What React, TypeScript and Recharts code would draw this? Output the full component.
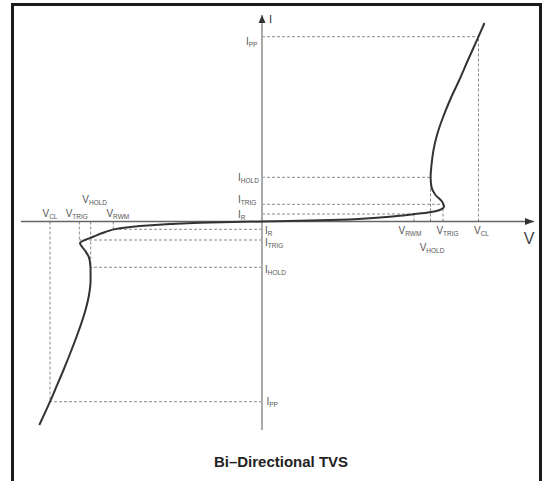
import {
  LineChart,
  Line,
  XAxis,
  YAxis,
  ReferenceLine,
  ReferenceDot,
} from 'recharts';

// Bi-directional TVS I-V sketch, arbitrary units
// V on the horizontal axis, I on the vertical axis

// characteristic levels, positive quadrant
const POS = { vRwm: 15.2, vHold: 16.85, vTrig: 18.1, vCl: 21.65, iR: 0.75, iTrig: 1.72, iHold: 4.42, iPp: 18.48 };
// characteristic levels, negative quadrant
const NEG = { vRwm: -14.87, vHold: -17.13, vTrig: -18.27, vCl: -21.2, iR: -0.78, iTrig: -1.85, iHold: -4.58, iPp: -18.02 };

// left branch: far end up to the origin
const NEG_BRANCH = [
  { v: -22.27, i: -20.35 },
  { v: -21.2, i: -18.02 },
  { v: -20.7, i: -16.85 },
  { v: -19.85, i: -14.85 },
  { v: -19.05, i: -12.85 },
  { v: -18.3, i: -10.85 },
  { v: -17.65, i: -8.85 },
  { v: -17.3, i: -7.35 },
  { v: -17.14, i: -5.85 },
  { v: -17.15, i: -4.6 },
  { v: -17.3, i: -3.6 },
  { v: -17.7, i: -2.9 },
  { v: -18.2, i: -2.15 },
  { v: -17.7, i: -1.85 },
  { v: -16.87, i: -1.52 },
  { v: -15.87, i: -1.12 },
  { v: -14.2, i: -0.68 },
  { v: -12.2, i: -0.45 },
  { v: -9.2, i: -0.25 },
  { v: -6.2, i: -0.12 },
  { v: 0, i: 0 },
];

// right branch: origin out to the far end
const POS_BRANCH = [
  { v: 0, i: 0 },
  { v: 3.8, i: 0.07 },
  { v: 7.8, i: 0.17 },
  { v: 11.8, i: 0.4 },
  { v: 13.5, i: 0.55 },
  { v: 15.1, i: 0.72 },
  { v: 16.8, i: 0.92 },
  { v: 17.7, i: 1.12 },
  { v: 18.2, i: 1.5 },
  { v: 18.0, i: 2.0 },
  { v: 17.35, i: 2.65 },
  { v: 16.95, i: 3.45 },
  { v: 16.86, i: 4.45 },
  { v: 16.95, i: 5.65 },
  { v: 17.15, i: 7.15 },
  { v: 17.5, i: 8.65 },
  { v: 18.0, i: 10.15 },
  { v: 18.8, i: 12.15 },
  { v: 19.73, i: 14.15 },
  { v: 20.6, i: 16.15 },
  { v: 21.65, i: 18.48 },
  { v: 22.25, i: 19.85 },
];

const CURVE = [...NEG_BRANCH, ...POS_BRANCH.slice(1)];

const V_DOMAIN = [-24.1, 27.2];
const I_DOMAIN = [-20.85, 20.65];

const FONT = '"Liberation Sans", Arial, sans-serif';

// dashed L-shaped guides from both axes to each (V, I) level
function guides(lv: typeof POS) {
  const pairs = [
    [lv.vRwm, lv.iR],
    [lv.vHold, lv.iHold],
    [lv.vTrig, lv.iTrig],
    [lv.vCl, lv.iPp],
  ];
  const segs: { x: number; y: number }[][] = [];
  pairs.forEach(([v, i]) => {
    segs.push([{ x: 0, y: i }, { x: v, y: i }]);
    segs.push([{ x: v, y: 0 }, { x: v, y: i }]);
  });
  return segs;
}

const GUIDES = [...guides(POS), ...guides(NEG)];

// text with a subscript, drawn at a reference point
const tag =
  (main: string, sub: string, dx: number, dy: number, anchor: 'start' | 'middle' | 'end' = 'start') =>
  (p: any) => (
    <text
      x={p.cx + dx}
      y={p.cy + dy}
      textAnchor={anchor}
      fontFamily={FONT}
      fontSize={10}
      fill="#555"
    >
      {main}
      <tspan fontSize={6.5} dy={2}>
        {sub}
      </tspan>
    </text>
  );

const upArrow = (p: any) => (
  <g>
    <path d={`M${p.cx},${p.cy} L${p.cx - 3.5},${p.cy + 8} L${p.cx + 3.5},${p.cy + 8} Z`} fill="#333" />
    <text x={p.cx + 7} y={p.cy + 8} fontFamily={FONT} fontSize={11} fill="#333">
      I
    </text>
  </g>
);

const rightArrow = (p: any) => (
  <g>
    <path d={`M${p.cx},${p.cy} L${p.cx - 9},${p.cy - 3.5} L${p.cx - 9},${p.cy + 3.5} Z`} fill="#333" />
    <text x={p.cx - 5} y={p.cy + 22} textAnchor="middle" fontFamily={FONT} fontSize={16} fill="#444">
      V
    </text>
  </g>
);

export default function App() {
  return (
    <div
      style={{
        position: 'absolute',
        left: 0,
        top: 0,
        width: 549,
        height: 481,
        overflow: 'hidden',
        background: '#fff',
      }}
    >
      <div
        style={{
          position: 'absolute',
          left: 11,
          top: 3,
          width: 525,
          height: 520,
          borderTop: '3px solid #1a1a1a',
          borderLeft: '3px solid #1a1a1a',
          borderRight: '3px solid #1a1a1a',
        }}
      />
      <div style={{ position: 'absolute', left: 0, top: 0 }}>
        <LineChart
          width={549}
          height={481}
          data={CURVE}
          margin={{ top: 15, right: 15, bottom: 51, left: 21 }}
        >
          <XAxis type="number" dataKey="v" domain={V_DOMAIN} hide allowDataOverflow />
          <YAxis type="number" dataKey="i" domain={I_DOMAIN} hide allowDataOverflow />

          {GUIDES.map((seg, k) => (
            <ReferenceLine
              key={`g-${k}`}
              segment={seg}
              stroke="#8a8a8a"
              strokeWidth={1}
              strokeDasharray="3 2"
            />
          ))}

          <ReferenceLine x={0} stroke="#aaa" strokeWidth={2} />
          <ReferenceLine y={0} stroke="#666" strokeWidth={1.5} />

          <Line
            dataKey="i"
            type="monotoneY"
            stroke="#333"
            strokeWidth={2}
            dot={false}
            activeDot={false}
            isAnimationActive={false}
          />

          <ReferenceDot x={0} y={I_DOMAIN[1]} r={0} shape={upArrow} />
          <ReferenceDot x={V_DOMAIN[1]} y={0} r={0} shape={rightArrow} />

          {/* current labels, positive side (left of axis) */}
          <ReferenceDot x={0} y={POS.iPp} r={0} shape={tag('I', 'PP', -16, 8)} />
          <ReferenceDot x={0} y={POS.iHold} r={0} shape={tag('I', 'HOLD', -24, 3.5)} />
          <ReferenceDot x={0} y={POS.iTrig} r={0} shape={tag('I', 'TRIG', -24, -1.5)} />
          <ReferenceDot x={0} y={POS.iR} r={0} shape={tag('I', 'R', -24, 4)} />

          {/* current labels, negative side (right of axis) */}
          <ReferenceDot x={0} y={NEG.iR} r={0} shape={tag('I', 'R', 3, 4.5)} />
          <ReferenceDot x={0} y={NEG.iTrig} r={0} shape={tag('I', 'TRIG', 3, 6)} />
          <ReferenceDot x={0} y={NEG.iHold} r={0} shape={tag('I', 'HOLD', 3, 6)} />
          <ReferenceDot x={0} y={NEG.iPp} r={0} shape={tag('I', 'PP', 4.5, 3.5)} />

          {/* voltage labels, positive side (below axis) */}
          <ReferenceDot x={POS.vRwm} y={0} r={0} shape={tag('V', 'RWM', -4, 12.5, 'middle')} />
          <ReferenceDot x={POS.vTrig} y={0} r={0} shape={tag('V', 'TRIG', 4.5, 12.5, 'middle')} />
          <ReferenceDot x={POS.vCl} y={0} r={0} shape={tag('V', 'CL', 3, 12.5, 'middle')} />
          <ReferenceDot x={POS.vHold} y={0} r={0} shape={tag('V', 'HOLD', 1.5, 29, 'middle')} />

          {/* voltage labels, negative side (above axis) */}
          <ReferenceDot x={NEG.vCl} y={0} r={0} shape={tag('V', 'CL', 0, -4.5, 'middle')} />
          <ReferenceDot x={NEG.vTrig} y={0} r={0} shape={tag('V', 'TRIG', -2.5, -4.5, 'middle')} />
          <ReferenceDot x={NEG.vRwm} y={0} r={0} shape={tag('V', 'RWM', 4.5, -4.5, 'middle')} />
          <ReferenceDot x={NEG.vHold} y={0} r={0} shape={tag('V', 'HOLD', 4, -18.5, 'middle')} />
        </LineChart>
      </div>
      <div
        style={{
          position: 'absolute',
          left: 181,
          top: 454,
          width: 200,
          textAlign: 'center',
          fontFamily: FONT,
          fontWeight: 'bold',
          fontSize: 15,
          lineHeight: '15px',
          color: '#222',
        }}
      >
        Bi–Directional TVS
      </div>
    </div>
  );
}
